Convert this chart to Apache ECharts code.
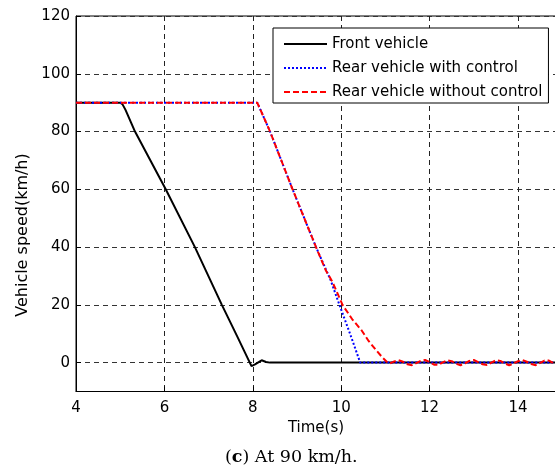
<!DOCTYPE html>
<html>
<head>
<meta charset="utf-8">
<script src="https://cdn.jsdelivr.net/npm/echarts@6/dist/echarts.min.js"></script>
<style>
  html, body { margin: 0; padding: 0; background: #fff; }
  #chart { width: 555px; height: 472px; }
</style>
</head>
<body>
<div id="chart"></div>
<script>
// Speed traces, [time (s), speed (km/h)]
const frontVehicle = [
  [4.0, 90], [5.0, 90], [5.05, 89.5], [5.12, 87.5], [5.335, 80], [6.03, 60],
  [6.69, 40], [7.3, 20], [7.65, 9], [7.97, -1.2], [8.05, -0.6], [8.2, 0.8],
  [8.3, 0.2], [8.39, 0], [14.86, 0]
];
const rearWithControl = [
  [4.0, 90], [8.1, 90], [8.16, 88], [8.39, 80], [8.9, 60], [9.43, 40],
  [9.76, 28.6], [9.96, 20], [10.2, 10], [10.43, 0], [14.86, 0]
];
const rearWithoutControlDecel = [
  [4.0, 90], [8.1, 90], [8.16, 88], [8.39, 80], [8.9, 60], [9.43, 40],
  [9.65, 32], [9.8, 28], [10.03, 20], [10.25, 15], [10.46, 11.2],
  [10.62, 7.5], [10.79, 4.3], [10.92, 2], [11.03, 0.3]
];
// residual speed ripple after the uncontrolled stop, every 0.1 s from 11.1 s
const rippleStart = 11.1;
const rippleValues = [
  -0.3, 0.4, 0.8, 0.3, -0.6, -0.9, -0.2, 0.6, 0.9, 0.2, -0.7, -0.8, 0.1,
  0.8, 0.5, -0.4, -0.9, -0.3, 0.6, 0.9, 0.2, -0.6, -0.8, 0.0, 0.8, 0.6,
  -0.3, -0.9, -0.4, 0.5, 0.9, 0.3, -0.5, -0.9, -0.1, 0.7, 0.7, -0.2
];
const seriesNames = ['Front vehicle', 'Rear vehicle with control', 'Rear vehicle without control'];
const xTickValues = [4, 6, 8, 10, 12, 14];
const yTickValues = [0, 20, 40, 60, 80, 100, 120];
const xRange = [4, 14.86];
const yRange = [-10, 120];

const rearWithoutControl = rearWithoutControlDecel.concat(
  rippleValues.map((v, i) => [+(rippleStart + i * 0.1).toFixed(2), v])
);

const font = 'DejaVu Sans';
const chart = echarts.init(document.getElementById('chart'), null, { renderer: 'canvas' });

chart.setOption({
  animation: false,
  backgroundColor: '#fff',
  grid: {
    left: 76, top: 16, right: -1, bottom: 80.5,
    outerBoundsMode: 'none', containLabel: false,
    show: true, borderColor: '#000', borderWidth: 1, backgroundColor: 'transparent'
  },
  legend: {
    orient: 'vertical',
    left: 273, top: 28,
    padding: [6, 6, 1, 10],
    itemWidth: 43, itemHeight: 14, itemGap: 4,
    backgroundColor: '#fff', borderColor: '#000', borderWidth: 1,
    itemStyle: { opacity: 0 },
    textStyle: { fontFamily: font, fontSize: 15, color: '#000', lineHeight: 20 },
    data: seriesNames
  },
  xAxis: {
    type: 'value', min: xRange[0], max: xRange[1],
    name: 'Time(s)', nameLocation: 'middle', nameGap: 28,
    nameTextStyle: { fontFamily: font, fontSize: 15, color: '#000' },
    axisLine: { show: true, onZero: false, lineStyle: { color: '#000', width: 1 } },
    axisTick: { show: true, inside: true, length: 5, customValues: xTickValues, lineStyle: { color: '#000' } },
    axisLabel: { fontFamily: font, fontSize: 15, color: '#000', margin: 9, customValues: xTickValues },
    splitLine: { show: true, lineStyle: { color: '#222', width: 1, type: [5, 4] } }
  },
  yAxis: {
    type: 'value', min: yRange[0], max: yRange[1],
    axisLine: { show: true, onZero: false, lineStyle: { color: '#000', width: 1 } },
    axisTick: { show: true, inside: true, length: 5, customValues: yTickValues, lineStyle: { color: '#000' } },
    axisLabel: { fontFamily: font, fontSize: 15, color: '#000', margin: 6, customValues: yTickValues },
    splitLine: { show: true, lineStyle: { color: '#333', width: 1, type: [5, 4] } }
  },
  series: [
    {
      name: seriesNames[0], type: 'line', data: frontVehicle, symbol: 'none',
      lineStyle: { color: '#000', width: 2 }, itemStyle: { color: '#000' }
    },
    {
      name: seriesNames[1], type: 'line', data: rearWithControl, symbol: 'none',
      lineStyle: { color: '#0000ff', width: 2, type: [2, 2] }, itemStyle: { color: '#0000ff' }
    },
    {
      name: seriesNames[2], type: 'line', data: rearWithoutControl, symbol: 'none',
      lineStyle: { color: '#ff0000', width: 2, type: [6, 3] }, itemStyle: { color: '#ff0000' }
    }
  ],
  graphic: [
    {
      type: 'text', x: 23, y: 235, rotation: Math.PI / 2,
      style: {
        text: 'Vehicle speed(km/h)', fontFamily: font, fontSize: 16, fill: '#000',
        align: 'center', verticalAlign: 'middle'
      }
    },
    {
      type: 'text', left: 225, top: 448,
      style: {
        text: '{a|(}{b|c}{a|) At 90 km/h.}',
        rich: {
          a: { fontFamily: 'DejaVu Serif', fontSize: 17.5, fill: '#000' },
          b: { fontFamily: 'DejaVu Serif', fontSize: 17.5, fontWeight: 'bold', fill: '#000' }
        }
      }
    }
  ]
});
</script>
</body>
</html>
